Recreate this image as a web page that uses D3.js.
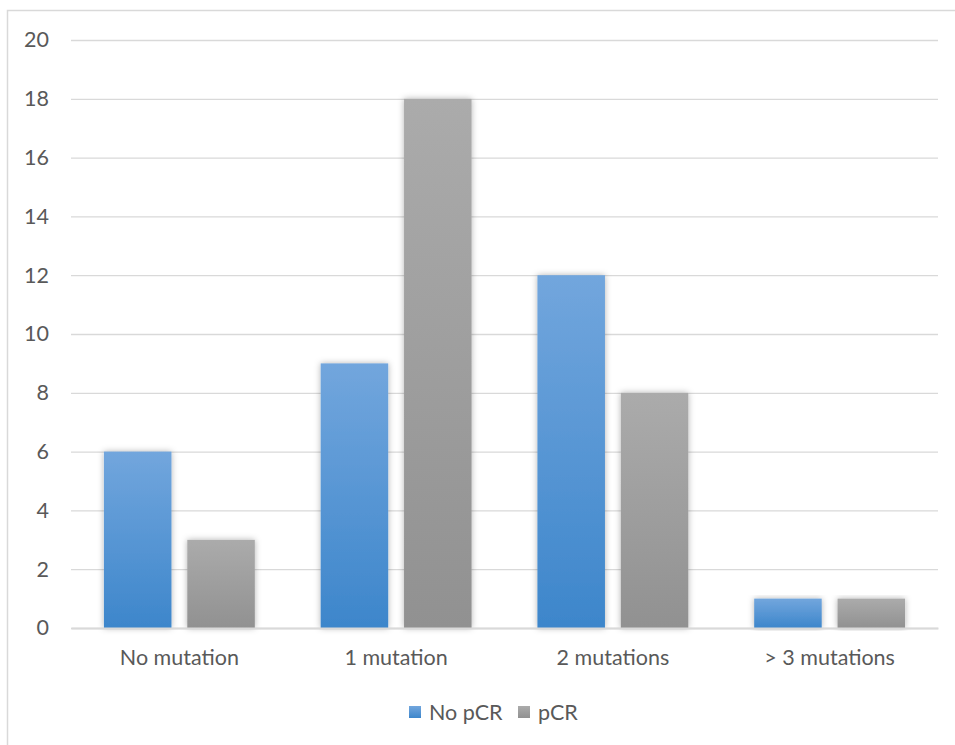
<!DOCTYPE html>
<html>
<head>
<meta charset="utf-8">
<script src="https://cdn.jsdelivr.net/npm/d3@7"></script>
<style>
  html, body { margin: 0; padding: 0; background: #fff; }
  svg { display: block; font-family: Lato, "Open Sans", sans-serif; }
</style>
</head>
<body>
<svg id="chart" width="955" height="745"></svg>
<script>
// Mutation count vs. pathological complete response
const categories = ["No mutation", "1 mutation", "2 mutations", "> 3 mutations"];
const seriesNames = ["No pCR", "pCR"];
const noPCR = [6, 9, 12, 1];
const pCR = [3, 18, 8, 1];
const yTicks = [0, 2, 4, 6, 8, 10, 12, 14, 16, 18, 20];

const svg = d3.select("#chart");
const margin = { left: 71, right: 17, top: 40, bottom: 117 };
const W = 955, H = 745;
const FONT = "Lato, 'Open Sans', sans-serif";
const FS = 21.5;
const TXT = "#595959";

// outer chart frame
svg.append("rect")
  .attr("x", 7.5).attr("y", 10.5)
  .attr("width", 960).attr("height", 760)
  .attr("fill", "#fff").attr("stroke", "#d9d9d9").attr("stroke-width", 1.5);

const x0 = d3.scaleBand().domain(categories)
  .range([margin.left, W - margin.right]).paddingInner(0).paddingOuter(0);
const x1 = d3.scaleBand().domain(seriesNames)
  .range([0, x0.bandwidth()]).paddingInner(0.19).paddingOuter(0.395);
const y = d3.scaleLinear().domain([0, 20]).range([H - margin.bottom, margin.top]);

const defs = svg.append("defs");
const grads = [
  { id: "gBlue", top: "#72a6dd", bottom: "#3d86cb" },
  { id: "gGray", top: "#ababab", bottom: "#919191" }
];
grads.forEach(g => {
  const lg = defs.append("linearGradient").attr("id", g.id)
    .attr("x1", 0).attr("y1", 0).attr("x2", 0).attr("y2", 1);
  lg.append("stop").attr("offset", "0%").attr("stop-color", g.top);
  lg.append("stop").attr("offset", "100%").attr("stop-color", g.bottom);
});
const shadow = defs.append("filter").attr("id", "shadow")
  .attr("x", "-30%").attr("y", "-10%").attr("width", "160%").attr("height", "120%");
shadow.append("feDropShadow").attr("dx", 0).attr("dy", 0)
  .attr("stdDeviation", 3).attr("flood-color", "#000").attr("flood-opacity", 0.3);

// gridlines and value labels
const yAxis = d3.axisLeft(y).tickValues(yTicks).tickSize(-(W - margin.left - margin.right)).tickPadding(22);
const gy = svg.append("g").attr("transform", `translate(${margin.left},0)`).call(yAxis);
gy.select(".domain").remove();
gy.selectAll(".tick line").attr("stroke", "#d9d9d9").attr("stroke-width", 1.3);
gy.selectAll(".tick text").attr("fill", TXT).attr("font-size", FS).attr("font-family", FONT);

// bars
const data = categories.map((c, i) => ({ cat: c, vals: [
  { s: "No pCR", v: noPCR[i], fill: "url(#gBlue)" },
  { s: "pCR", v: pCR[i], fill: "url(#gGray)" }
]}));

const groups = svg.append("g").selectAll("g").data(data).join("g")
  .attr("transform", d => `translate(${x0(d.cat)},0)`);
groups.selectAll("rect").data(d => d.vals).join("rect")
  .attr("x", d => x1(d.s))
  .attr("width", x1.bandwidth())
  .attr("y", d => y(d.v))
  .attr("height", d => y(0) - y(d.v))
  .attr("fill", d => d.fill)
  .attr("filter", "url(#shadow)");

// category axis
const xAxis = d3.axisBottom(x0).tickSize(0).tickPadding(22);
const gx = svg.append("g").attr("transform", `translate(0,${y(0)})`).call(xAxis);
gx.select(".domain").attr("stroke", "#d9d9d9").attr("stroke-width", 2);
gx.selectAll(".tick text").attr("fill", TXT).attr("font-size", FS).attr("font-family", FONT);

// legend
const legend = svg.append("g").attr("transform", "translate(409,706)");
const legItems = [
  { name: seriesNames[0], fill: "url(#gBlue)", x: 0 },
  { name: seriesNames[1], fill: "url(#gGray)", x: 109 }
];
legItems.forEach(it => {
  legend.append("rect").attr("x", it.x).attr("y", 0).attr("width", 12).attr("height", 12).attr("fill", it.fill);
  legend.append("text").attr("x", it.x + 20).attr("y", 13.5)
    .attr("fill", TXT).attr("font-size", FS).attr("font-family", FONT).text(it.name);
});
</script>
</body>
</html>
